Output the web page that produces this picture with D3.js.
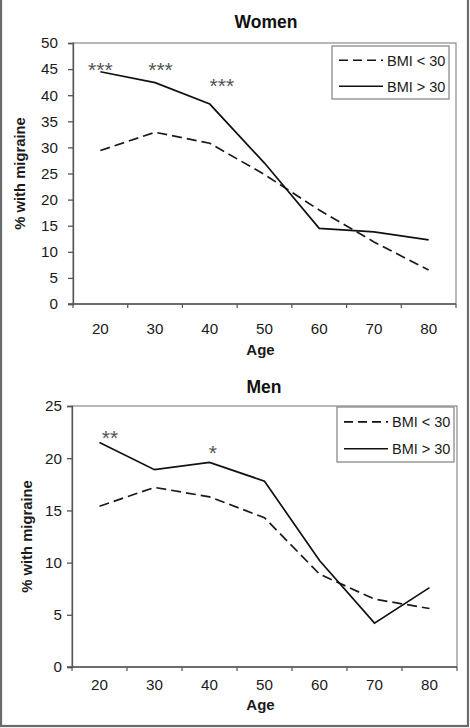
<!DOCTYPE html>
<html>
<head>
<meta charset="utf-8">
<script src="https://cdn.jsdelivr.net/npm/d3@7"></script>
<style>
  html, body { margin: 0; padding: 0; background: #fff; }
  svg { display: block; font-family: "Liberation Sans", Arial, sans-serif; }
</style>
</head>
<body>
<svg id="chart" width="470" height="728"></svg>
<script>
// ---- data ----
const ages = ["20", "30", "40", "50", "60", "70", "80"];
const seriesNames = ["BMI < 30", "BMI > 30"];

const womenLow  = [29.4, 32.9, 30.8, 24.8, 18.0, 11.9, 6.5];
const womenHigh = [44.5, 42.4, 38.3, 27.0, 14.5, 13.8, 12.3];
const womenTicks = [0, 5, 10, 15, 20, 25, 30, 35, 40, 45, 50];

const menLow  = [15.4, 17.2, 16.3, 14.3, 8.9, 6.5, 5.6];
const menHigh = [21.5, 18.9, 19.6, 17.8, 10.2, 4.2, 7.6];
const menTicks = [0, 5, 10, 15, 20, 25];

const womenStars = [
  { age: 20.0, value: 45.8, label: "***" },
  { age: 31.0, value: 45.8, label: "***" },
  { age: 42.2, value: 42.8, label: "***" }
];
const menStars = [
  { age: 21.9, value: 22.4, label: "**" },
  { age: 40.6, value: 21.0, label: "*" }
];

// ---- drawing ----
const svg = d3.select("#chart");

// outer frame
svg.append("rect")
  .attr("x", 1).attr("y", -2).attr("width", 467).attr("height", 728)
  .attr("fill", "none").attr("stroke", "#6a6a6a").attr("stroke-width", 2.2);

function panel(opts) {
  const { title, low, high, ticks, yMax, stars, box, titleY, yLabelX, legend } = opts;
  const g = svg.append("g");

  const band = d3.scaleBand().domain(ages).range([box.left, box.right]);
  const xp = d3.scalePoint().domain(ages).range([box.left, box.right]).padding(0.5);
  const xAge = d3.scaleLinear()
    .domain([+ages[0], +ages[ages.length - 1]])
    .range([xp(ages[0]), xp(ages[ages.length - 1])]);
  const y = d3.scaleLinear().domain([0, yMax]).range([box.bottom, box.top]);

  // plot-area border
  g.append("rect")
    .attr("x", box.left).attr("y", box.top)
    .attr("width", box.right - box.left).attr("height", box.bottom - box.top)
    .attr("fill", "#fff").attr("stroke", "#8a8a8a").attr("stroke-width", 1.2);

  // y axis
  const ya = g.append("g")
    .attr("transform", `translate(${box.left},0)`)
    .call(d3.axisLeft(y).tickValues(ticks).tickSize(5).tickPadding(opts.yPad).tickFormat(d3.format("d")));
  ya.attr("font-size", 15.2).attr("font-family", "Liberation Sans, Arial, sans-serif");
  ya.selectAll("path, line").attr("stroke", "#555").attr("stroke-width", 1.3);
  ya.selectAll("text").attr("fill", "#1a1a1a");

  // x axis: boundary ticks
  const xa = g.append("g").attr("transform", `translate(0,${box.bottom})`);
  xa.append("line")
    .attr("x1", box.left - 5).attr("x2", box.right)
    .attr("stroke", "#555").attr("stroke-width", 1.3);
  const bounds = ages.map(a => band(a)).concat([box.right]);
  xa.selectAll("line.bt").data(bounds).join("line").attr("class", "bt")
    .attr("x1", d => d).attr("x2", d => d).attr("y1", 0).attr("y2", 4)
    .attr("stroke", "#555").attr("stroke-width", 1.2);
  xa.selectAll("text").data(ages).join("text")
    .attr("x", d => xp(d)).attr("y", opts.xLabelDy)
    .attr("text-anchor", "middle").attr("font-size", 15.2).attr("fill", "#1a1a1a")
    .text(d => d);

  // axis titles
  g.append("text")
    .attr("x", (box.left + box.right) / 2 - 4).attr("y", opts.ageY)
    .attr("text-anchor", "middle").attr("font-size", 15).attr("font-weight", "bold")
    .attr("fill", "#1a1a1a").text("Age");
  g.append("text")
    .attr("transform", `translate(${yLabelX},${(box.top + box.bottom) / 2}) rotate(-90)`)
    .attr("text-anchor", "middle").attr("dy", "0.35em")
    .attr("font-size", 14.8).attr("font-weight", "bold").attr("fill", "#1a1a1a")
    .text("% with migraine");

  // title
  g.append("text")
    .attr("x", opts.titleX).attr("y", titleY)
    .attr("text-anchor", "middle").attr("font-size", 17.5).attr("font-weight", "bold")
    .attr("fill", "#111").text(title);

  // lines
  const line = d3.line().x((d, i) => xp(ages[i])).y(d => y(d));
  g.append("path").datum(low).attr("d", line)
    .attr("fill", "none").attr("stroke", "#1a1a1a").attr("stroke-width", 1.7)
    .attr("stroke-dasharray", "10,5");
  g.append("path").datum(high).attr("d", line)
    .attr("fill", "none").attr("stroke", "#111").attr("stroke-width", 1.7);

  // stars
  g.selectAll("text.star").data(stars).join("text").attr("class", "star")
    .attr("x", d => xAge(d.age)).attr("y", d => y(d.value)).attr("dy", "0.57em")
    .attr("text-anchor", "middle").attr("font-size", 21).attr("fill", "#555")
    .text(d => d.label);

  // legend
  const L = legend;
  g.append("rect")
    .attr("x", L.x).attr("y", L.y).attr("width", L.w).attr("height", L.h)
    .attr("fill", "#fff").attr("stroke", "#8a8a8a").attr("stroke-width", 1.3);
  seriesNames.forEach((name, i) => {
    const yy = L.y + L.h * (i === 0 ? 0.27 : 0.76);
    g.append("line")
      .attr("x1", L.x + 7).attr("x2", L.x + 51).attr("y1", yy).attr("y2", yy)
      .attr("stroke", "#111").attr("stroke-width", 1.6)
      .attr("stroke-dasharray", i === 0 ? "9,5" : null);
    g.append("text")
      .attr("x", L.x + 55).attr("y", yy).attr("dy", "0.36em")
      .attr("font-size", 14.5).attr("fill", "#1a1a1a").text(name);
  });
}

panel({
  title: "Women", low: womenLow, high: womenHigh, ticks: womenTicks, yMax: 50,
  stars: womenStars,
  box: { left: 73, right: 456, top: 43, bottom: 304 },
  titleX: 266, titleY: 28, yLabelX: 20, xLabelDy: 30, ageY: 355, yPad: 10,
  legend: { x: 332, y: 46, w: 117, h: 53 }
});

panel({
  title: "Men", low: menLow, high: menHigh, ticks: menTicks, yMax: 25,
  stars: menStars,
  box: { left: 72, right: 457, top: 406, bottom: 667 },
  titleX: 264, titleY: 393, yLabelX: 27, xLabelDy: 23, ageY: 710, yPad: 5,
  legend: { x: 337, y: 407, w: 117, h: 55 }
});
</script>
</body>
</html>
